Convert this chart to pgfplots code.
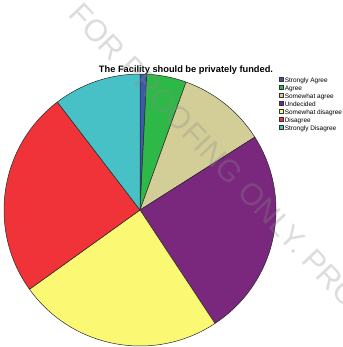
\documentclass[border=0pt]{standalone}
\usepackage{fontspec}
\setmainfont{Liberation Sans}
\usepackage{pgfplots}
\usepackage{pgfplotstable}
\pgfplotsset{compat=1.18}

\definecolor{cSA}{RGB}{62,88,172}
\definecolor{cA}{RGB}{46,184,72}
\definecolor{cSwA}{RGB}{211,206,151}
\definecolor{cU}{RGB}{121,40,125}
\definecolor{cSwD}{RGB}{251,248,115}
\definecolor{cD}{RGB}{239,51,56}
\definecolor{cSD}{RGB}{72,193,198}

% Percentages (clockwise from 12 o'clock)
\pgfplotstableread{
label pct
StronglyAgree 0.8
Agree 4.7
SomewhatAgree 10.5
Undecided 24.7
SomewhatDisagree 24.4
Disagree 24.5
StronglyDisagree 10.4
}\pietable

\begin{document}
\begin{tikzpicture}
\useasboundingbox (0,0) rectangle (343bp,347bp);
\begin{axis}[
  at={(4bp,1bp)}, anchor=south west,
  x=136bp, y=136bp,
  xmin=-1, xmax=1, ymin=-1, ymax=1,
  hide axis, clip=false,
  legend style={
    at={(1.011,0.990)}, anchor=north west,
    draw=none, fill=none, inner sep=0pt, outer sep=0pt,
    row sep=0pt, column sep=1bp,
    nodes={inner sep=0pt, outer sep=0pt, text height=5.8bp, text depth=1.9bp,
           font=\fontsize{6.5}{7}\selectfont},
  },
  legend cell align=left,
  legend image code/.code={\draw[#1] (0bp,-0.5bp) rectangle (4.5bp,4bp);},
]
\pgfplotsextra{
  \gdef\cum{0}
  \foreach \i/\c in {0/cSA,1/cA,2/cSwA,3/cU,4/cSwD,5/cD,6/cSD}{
    \pgfplotstablegetelem{\i}{pct}\of\pietable
    \let\p\pgfplotsretval
    \pgfmathsetmacro\a{90-3.6*\cum}
    \pgfmathsetmacro\b{90-3.6*(\cum+\p)}
    \pgfmathsetmacro\xa{cos(\a)}
    \pgfmathsetmacro\ya{sin(\a)}
    \filldraw[fill=\c, draw=black!85, line width=0.5bp, line join=round]
      (axis cs:0,0) -- (axis cs:\xa,\ya) arc[start angle=\a, end angle=\b, radius=136bp] -- cycle;
    \pgfmathsetmacro\newcum{\cum+\p}
    \xdef\cum{\newcum}
  }
}
\addlegendimage{fill=cSA, draw=black!80, line width=0.3bp}\addlegendentry{Strongly Agree}
\addlegendimage{fill=cA, draw=black!80, line width=0.3bp}\addlegendentry{Agree}
\addlegendimage{fill=cSwA, draw=black!80, line width=0.3bp}\addlegendentry{Somewhat agree}
\addlegendimage{fill=cU, draw=black!80, line width=0.3bp}\addlegendentry{Undecided}
\addlegendimage{fill=cSwD, draw=black!80, line width=0.3bp}\addlegendentry{Somewhat disagree}
\addlegendimage{fill=cD, draw=black!80, line width=0.3bp}\addlegendentry{Disagree}
\addlegendimage{fill=cSD, draw=black!80, line width=0.3bp}\addlegendentry{Strongly Disagree}
\end{axis}
\node[anchor=base, inner sep=0pt, font=\bfseries\fontsize{9.3}{11}\selectfont] at (186bp,274.7bp) {The Facility should be privately funded.};
\node[anchor=base west, inner sep=0pt, rotate=-46.5, text=black!45, text opacity=0.3,
      font=\fontsize{30.7}{32}\selectfont] at (67.6bp,331.2bp) {FOR PROOFING ONLY. PROHIBITED};
\end{tikzpicture}
\end{document}
